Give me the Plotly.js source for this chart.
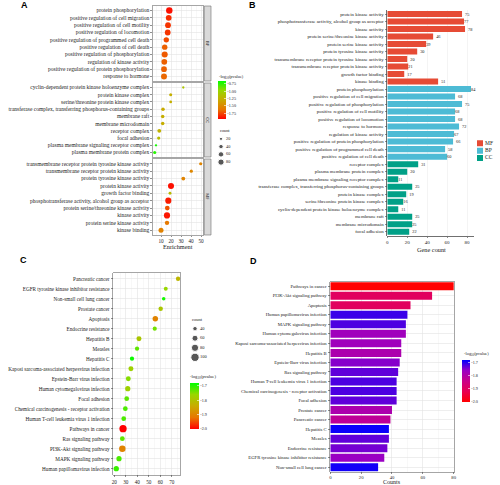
<!DOCTYPE html>
<html><head><meta charset="utf-8">
<script src="https://cdn.plot.ly/plotly-3.0.1.min.js"></script>
<style>html,body{margin:0;padding:0;background:#fff}#chart{width:500px;height:485px}</style>
</head><body><div id="chart"></div>
<script>
// ---------- Panel A: GO enrichment dot plot ----------
const bpTerms = ['protein phosphorylation','positive regulation of cell migration','positive regulation of cell motility','positive regulation of locomotion','positive regulation of programmed cell death','positive regulation of cell death','positive regulation of phosphorylation','regulation of kinase activity','positive regulation of protein phosphorylation','response to hormone'];
const bpEnrich = [18.3,17.7,17.0,16.7,15.3,13.7,13.7,13.3,13.0,13.0];
const bpCount = [84,68,68,68,58,60,75,67,66,72];
const bpLogP = [-1.9,-1.82,-1.8,-1.8,-1.74,-1.68,-1.7,-1.68,-1.68,-1.66];

const ccTerms = ['cyclin-dependent protein kinase holoenzyme complex','protein kinase complex','serine/threonine protein kinase complex','transferase complex, transferring phosphorus-containing groups','membrane raft','membrane microdomain','receptor complex','focal adhesion','plasma membrane signaling receptor complex','plasma membrane protein complex'];
const ccEnrich = [32.3,19.7,19.7,12.0,11.7,11.7,8.3,7.7,5.0,3.7];
const ccCount = [11,19,16,25,25,25,31,22,11,20];
const ccLogP = [-1.12,-1.27,-1.27,-1.3,-1.28,-1.28,-1.25,-1.18,-0.7,-0.74];

const mfTerms = ['transmembrane receptor protein tyrosine kinase activity','transmembrane receptor protein kinase activity','protein tyrosine kinase activity','protein kinase activity','growth factor binding','phosphotransferase activity, alcohol group as acceptor','protein serine/threonine kinase activity','kinase activity','protein serine kinase activity','kinase binding'];
const mfEnrich = [49.7,40.3,32.3,20.0,19.0,17.3,16.3,16.0,16.0,10.0];
const mfCount = [20,21,30,75,17,77,46,78,39,51];
const mfLogP = [-1.53,-1.52,-1.54,-1.9,-1.2,-1.87,-1.72,-1.88,-1.6,-1.55];

const aColorTicks = [-0.75,-1.00,-1.25,-1.50,-1.75];
const aCountLegend = [20,40,60,80];

// ---------- Panel B: GO gene count bars ----------
const goBarTerms = ['protein kinase activity','phosphotransferase activity, alcohol group as acceptor','kinase activity','protein serine/threonine kinase activity','protein serine kinase activity','protein tyrosine kinase activity','transmembrane receptor protein tyrosine kinase activity','transmembrane receptor protein kinase activity','growth factor binding','kinase binding',
 'protein phosphorylation','positive regulation of cell migration','positive regulation of phosphorylation','positive regulation of cell motility','positive regulation of locomotion','response to hormone','regulation of kinase activity','positive regulation of protein phosphorylation','positive regulation of programmed cell death','positive regulation of cell death',
 'receptor complex','plasma membrane protein complex','plasma membrane signaling receptor complex','transferase complex, transferring phosphorus-containing groups','protein kinase complex','serine/threonine protein kinase complex','cyclin-dependent protein kinase holoenzyme complex','membrane raft','membrane microdomain','focal adhesion'];
const goBarCount = [75,77,78,46,39,30,20,21,17,51, 84,68,75,68,68,72,67,66,58,60, 31,20,11,25,19,16,11,25,25,22];
const goBarGroup = ['MF','MF','MF','MF','MF','MF','MF','MF','MF','MF','BP','BP','BP','BP','BP','BP','BP','BP','BP','BP','CC','CC','CC','CC','CC','CC','CC','CC','CC','CC'];
const goGroups = ['MF','BP','CC'];
const goGroupColors = ['#E64B35','#4DBBD5','#00A087'];

// ---------- Panels C & D: KEGG ----------
const keggTerms = ['Pancreatic cancer','EGFR tyrosine kinase inhibitor resistance','Non-small cell lung cancer','Prostate cancer','Apoptosis','Endocrine resistance','Hepatitis B','Measles','Hepatitis C','Kaposi sarcoma-associated herpesvirus infection','Epstein-Barr virus infection','Human cytomegalovirus infection','Focal adhesion','Chemical carcinogenesis - receptor activation','Human T-cell leukemia virus 1 infection','Pathways in cancer','Ras signaling pathway','PI3K-Akt signaling pathway','MAPK signaling pathway','Human papillomavirus infection'];
const keggEnrich = [75.5,64.8,63.0,60.4,55.7,55.2,41.5,39.8,35.4,34.5,32.2,31.7,30.8,29.6,28.2,27.6,27.0,27.0,24.1,21.7];
const keggCount = [39,35,31,40,52,37,46,38,38,46,45,49,43,43,43,80,44,66,49,50];
const keggLogP = [-1.82,-1.76,-1.69,-1.79,-1.9,-1.74,-1.79,-1.73,-1.685,-1.77,-1.75,-1.77,-1.73,-1.72,-1.72,-2.0,-1.73,-1.9,-1.72,-1.71];
const keggBarOrder = ['Pathways in cancer','PI3K-Akt signaling pathway','Apoptosis','Human papillomavirus infection','MAPK signaling pathway','Human cytomegalovirus infection','Kaposi sarcoma-associated herpesvirus infection','Hepatitis B','Epstein-Barr virus infection','Ras signaling pathway','Human T-cell leukemia virus 1 infection','Chemical carcinogenesis - receptor activation','Focal adhesion','Prostate cancer','Pancreatic cancer','Hepatitis C','Measles','Endocrine resistance','EGFR tyrosine kinase inhibitor resistance','Non-small cell lung cancer'];
const keggColorTicks = [-1.7,-1.8,-1.9,-2.0];
const cCountLegend = [40,60,80,100];

// ---------- helpers ----------
const FONT = 'Liberation Serif, Times New Roman, serif';
const SANS = 'Liberation Sans, Arial, sans-serif';
const W = 500, H = 485;
const px = v => v / W, py = v => 1 - v / H;
const RG = [[0,'#FF0000'],[0.25,'#E87600'],[0.5,'#C9AB00'],[0.75,'#98D700'],[1,'#00FF00']];
const RB = [[0,'#FF0000'],[0.25,'#E80050'],[0.5,'#CA0088'],[0.75,'#9A00C3'],[1,'#0000FF']];
const GRID = '#e3e3e3', MINOR = '#f1f1f1', BORDER = '#808080', TXT = '#1a1a1a';
const sizeA = c => 0.7 * Math.sqrt(c);
const sizeC = c => Math.sqrt(Math.max(0.837 * c - 13.7, 4));

function catAxis(topPx, botPx, anchor, cats, pad, fs, extra) {
  return Object.assign({domain:[py(botPx), py(topPx)], anchor, type:'category', categoryorder:'array', categoryarray:cats,
    range:[cats.length - 1 + pad, -pad], autorange:false, tickfont:{family:FONT, size:fs, color:TXT},
    ticks:'outside', ticklen:2, tickwidth:0.6, tickcolor:'#444', showgrid:true, gridcolor:GRID, gridwidth:0.6,
    showline:true, mirror:true, linecolor:BORDER, linewidth:0.7, zeroline:false, fixedrange:true}, extra || {});
}
function numAxis(leftPx, rightPx, anchor, range, dtick, fs, extra) {
  return Object.assign({domain:[px(leftPx), px(rightPx)], anchor, range, autorange:false, dtick, tick0:0,
    tickfont:{family:FONT, size:fs, color:TXT}, ticks:'outside', ticklen:2, tickwidth:0.6, tickcolor:'#444',
    showgrid:true, gridcolor:GRID, gridwidth:0.6, showline:true, mirror:true, linecolor:BORDER, linewidth:0.7,
    zeroline:false, fixedrange:true}, extra || {});
}
const hidden = (domain, range, extra) => Object.assign({domain, range, autorange:false, visible:false, fixedrange:true}, extra || {});

function dots(x, y, cnt, col, xa, ya, cax, sf) {
  return {type:'scatter', mode:'markers', x, y, xaxis:xa, yaxis:ya, showlegend:false, hoverinfo:'skip', cliponaxis:false,
    marker:{size:cnt.map(sf), color:col, coloraxis:cax, line:{width:0}, opacity:1}};
}

const traces = [];
// A
traces.push(dots(bpEnrich, bpTerms, bpCount, bpLogP, 'x', 'y', 'coloraxis', sizeA));
traces.push(dots(ccEnrich, ccTerms, ccCount, ccLogP, 'x2', 'y2', 'coloraxis', sizeA));
traces.push(dots(mfEnrich, mfTerms, mfCount, mfLogP, 'x3', 'y3', 'coloraxis', sizeA));
// A size legend
traces.push({type:'scatter', mode:'markers', x:aCountLegend.map(() => 0), y:aCountLegend.map(String), xaxis:'x7', yaxis:'y7',
  showlegend:false, hoverinfo:'skip', marker:{size:aCountLegend.map(sizeA), color:'#111'}});
traces.push({type:'scatter', mode:'text', x:aCountLegend.map(() => 1), y:aCountLegend.map(String), text:aCountLegend.map(String),
  textposition:'middle right', textfont:{family:FONT, size:4.3, color:TXT}, xaxis:'x7', yaxis:'y7', showlegend:false, hoverinfo:'skip'});
// B bars
goGroups.forEach((g, gi) => {
  const idx = goBarGroup.map((v, i) => v === g ? i : -1).filter(i => i >= 0);
  traces.push({type:'bar', orientation:'h', x:idx.map(i => goBarCount[i]), y:idx.map(i => goBarTerms[i]), xaxis:'x4', yaxis:'y4',
    name:g, showlegend:false, hoverinfo:'skip', width:0.8, marker:{color:goGroupColors[gi], line:{width:0}},
    text:idx.map(i => String(goBarCount[i])), textposition:'outside', cliponaxis:false,
    textfont:{family:FONT, size:4.3, color:'#222'}, constraintext:'none'});
});
// B legend
traces.push({type:'scatter', mode:'markers', x:goGroups.map(() => 0), y:goGroups, xaxis:'x8', yaxis:'y8', showlegend:false, hoverinfo:'skip',
  marker:{symbol:'square', size:6, color:goGroupColors}});
traces.push({type:'scatter', mode:'text', x:goGroups.map(() => 1), y:goGroups, text:goGroups, textposition:'middle right',
  textfont:{family:FONT, size:5.5, color:TXT}, xaxis:'x8', yaxis:'y8', showlegend:false, hoverinfo:'skip'});
// C
traces.push(dots(keggEnrich, keggTerms, keggCount, keggLogP, 'x5', 'y5', 'coloraxis2', sizeC));
traces.push({type:'scatter', mode:'markers', x:cCountLegend.map(() => 0), y:cCountLegend.map(String), xaxis:'x9', yaxis:'y9',
  showlegend:false, hoverinfo:'skip', marker:{size:cCountLegend.map(sizeC), color:'#111'}});
traces.push({type:'scatter', mode:'text', x:cCountLegend.map(() => 1), y:cCountLegend.map(String), text:cCountLegend.map(String),
  textposition:'middle right', textfont:{family:FONT, size:4.5, color:TXT}, xaxis:'x9', yaxis:'y9', showlegend:false, hoverinfo:'skip'});
// D
const dIdx = keggBarOrder.map(t => keggTerms.indexOf(t));
traces.push({type:'bar', orientation:'h', x:dIdx.map(i => keggCount[i]), y:keggBarOrder, xaxis:'x6', yaxis:'y6', showlegend:false,
  hoverinfo:'skip', width:0.84, marker:{color:dIdx.map(i => keggLogP[i]), coloraxis:'coloraxis3', line:{width:0}}});

const cb = (xl, top, len, thick, ticks, fmt) => ({x:px(xl), xanchor:'left', y:py(top), yanchor:'top', len, lenmode:'pixels',
  thickness:thick, thicknessmode:'pixels', xpad:0, ypad:0, outlinewidth:0, tickvals:ticks, ticktext:ticks.map(fmt),
  tickfont:{family:FONT, size:4.2, color:TXT}, ticks:'inside', ticklen:2, tickcolor:'#fff', tickwidth:0.6});

function ann(text, x, y, size, o) {
  return Object.assign({text, x:px(x), y:py(y), xref:'paper', yref:'paper', showarrow:false, xanchor:'center', yanchor:'middle',
    font:{family:FONT, size, color:TXT}}, o || {});
}
const annotations = [
  ann('<b>A</b>', 24, 5.5, 9, {font:{family:SANS, size:9, color:'#000'}}),
  ann('<b>B</b>', 252, 5.5, 9, {font:{family:SANS, size:9, color:'#000'}}),
  ann('<b>C</b>', 23.5, 260, 9, {font:{family:SANS, size:9, color:'#000'}}),
  ann('<b>D</b>', 253.5, 260.5, 9, {font:{family:SANS, size:9, color:'#000'}}),
  ann('BP', 207.7, 43.5, 4.5, {textangle:90}),
  ann('CC', 207.7, 120, 4.5, {textangle:90}),
  ann('MF', 207.7, 197, 4.5, {textangle:90}),
  ann('-log<sub>10</sub>(pvalue)', 216.5, 77, 4.3, {xanchor:'left'}),
  ann('count', 217.5, 131, 4.3, {xanchor:'left'}),
  ann('Enrichment', 178, 246.5, 6.3),
  ann('Gene count', 431, 249.5, 6.3),
  ann('count', 189.5, 319.5, 4.5, {xanchor:'left'}),
  ann('-log<sub>10</sub>(pvalue)', 188, 376.5, 4.6, {xanchor:'left'}),
  ann('-log<sub>10</sub>(pvalue)', 462, 354, 4.4, {xanchor:'left'}),
  ann('Counts', 392, 482.3, 6.0)
];
const strip = (t, b) => ({type:'rect', xref:'paper', yref:'paper', x0:px(204.3), x1:px(211), y0:py(b), y1:py(t),
  fillcolor:'#d9d9d9', line:{color:'#6e6e6e', width:0.6}, layer:'below'});

const minorX5 = {dtick:5, showgrid:true, gridcolor:MINOR, gridwidth:0.5};
const layout = {
  width:W, height:H, margin:{l:0, r:0, t:0, b:0}, paper_bgcolor:'#fff', plot_bgcolor:'#fff',
  showlegend:false, barmode:'overlay',
  font:{family:FONT, color:TXT},
  xaxis: numAxis(153, 203, 'y', [2, 52], 10, 5.2, {showticklabels:false, ticks:'', minor:minorX5}),
  xaxis2: numAxis(153, 203, 'y2', [2, 52], 10, 5.2, {showticklabels:false, ticks:'', minor:minorX5}),
  xaxis3: numAxis(153, 203, 'y3', [2, 52], 10, 5.2, {minor:minorX5, ticklen:1.5}),
  yaxis: catAxis(6, 81, 'x', bpTerms, 0.62, 5.5),
  yaxis2: catAxis(83, 157, 'x2', ccTerms, 0.62, 5.5),
  yaxis3: catAxis(159, 235, 'x3', mfTerms, 0.65, 5.5),
  xaxis4: numAxis(387.3, 474, 'y4', [0, 87], 20, 5.0, {mirror:false, linecolor:'#333', gridcolor:'#ececec', ticklen:1.5}),
  yaxis4: catAxis(9.5, 236.2, 'x4', goBarTerms, 0.6, 4.9, {mirror:false, linecolor:'#333', showgrid:false}),
  xaxis5: numAxis(113.3, 180, 'y5', [19.13, 77.2], 10, 5.2, {minor:minorX5}),
  yaxis5: catAxis(272.7, 474.7, 'x5', keggTerms, 0.6, 5.2),
  xaxis6: numAxis(330.3, 454.3, 'y6', [0, 80.4], 20, 4.7, {minor:{dtick:10, showgrid:true, gridcolor:MINOR, gridwidth:0.5}, ticklen:1.2}),
  yaxis6: catAxis(281.7, 471.7, 'x6', keggBarOrder, 0.47, 4.7),
  xaxis7: hidden([px(216), px(240)], [-1, 3.8], {anchor:'y7'}),
  yaxis7: hidden([py(166), py(135)], [3.5, -0.5], {anchor:'x7', type:'category', categoryarray:aCountLegend.map(String), categoryorder:'array'}),
  xaxis8: hidden([px(475), px(500)], [-1, 4], {anchor:'y8'}),
  yaxis8: hidden([py(161.7), py(139.6)], [2.5, -0.5], {anchor:'x8', type:'category', categoryarray:goGroups, categoryorder:'array'}),
  xaxis9: hidden([px(189), px(213)], [-1.2, 3.6], {anchor:'y9'}),
  yaxis9: hidden([py(362.1), py(323.9)], [3.5, -0.5], {anchor:'x9', type:'category', categoryarray:cCountLegend.map(String), categoryorder:'array'}),
  coloraxis: {cmin:-1.94, cmax:-0.66, colorscale:RG, colorbar:cb(218, 81, 38, 8, aColorTicks, v => v.toFixed(2))},
  coloraxis2: {cmin:-2.0, cmax:-1.68, colorscale:RG, colorbar:cb(190, 383, 46, 9, keggColorTicks, v => v.toFixed(1))},
  coloraxis3: {cmin:-2.0, cmax:-1.68, colorscale:RB, colorbar:cb(462, 360, 42, 8, keggColorTicks, v => v.toFixed(1))},
  shapes: [strip(6, 81), strip(83, 157), strip(159, 235)],
  annotations
};
Plotly.newPlot('chart', traces, layout, {staticPlot:true, displayModeBar:false});
</script></body></html>
